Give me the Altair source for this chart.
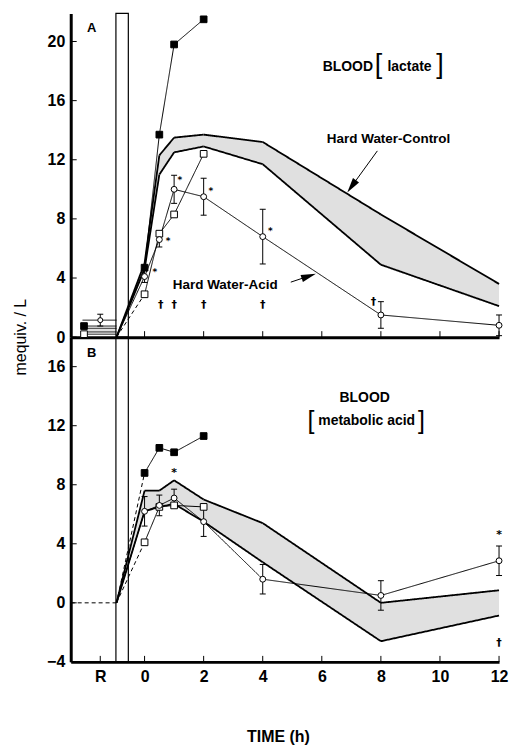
import altair as alt
import pandas as pd

# ---- time axis (h) ---------------------------------------------------------
HOURS = [0, 0.5, 1, 2, 4, 8, 12]
EARLY_HOURS = [0, 0.5, 1, 2]
T_ENTRY = -0.95              # traces leave the exposure period here
EXPOSURE = [-0.97, -0.55]    # exposure bar edges
REST_SPAN = [-2.1, -0.95]
REST_MARK = -2.05
R_POS = -1.5
X_DOMAIN = [-2.5, 12]
X_TICKS = [0, 2, 4, 6, 8, 10, 12]
X_LABELS = [-1.5, 0, 2, 4, 6, 8, 10, 12]

# ---- panel A: blood lactate (mequiv/L) -------------------------------------
A_DOMAIN = [0, 21.9]
A_TICKS = [0, 4, 8, 12, 16, 20]
LAC_CTRL_HI = [5.0, 12.3, 13.5, 13.7, 13.2, 8.3, 3.6]
LAC_CTRL_LO = [4.6, 11.0, 12.5, 12.9, 11.7, 4.9, 2.1]
LAC_ACID = [4.1, 6.6, 10.0, 9.5, 6.8, 1.5, 0.8]
LAC_ACID_SE = [0.4, 0.5, 0.95, 1.25, 1.85, 0.9, 0.7]
LAC_FILLED = [4.7, 13.7, 19.8, 21.5]
LAC_OPEN = [2.9, 7.0, 8.3, 12.4]
LAC_REST_CTRL = [0.35, 0.6]
LAC_REST_ACID = 1.15
LAC_REST_ACID_SE = 0.4
LAC_REST_FILLED = 0.75
LAC_REST_OPEN = 0.2

# ---- panel B: blood metabolic acid (mequiv/L) ------------------------------
B_DOMAIN = [-4, 18]
B_TICKS = [-4, 0, 4, 8, 12, 16]
MET_CTRL_HI = [7.6, 7.6, 8.3, 7.0, 5.4, 0.0, 0.85]
MET_CTRL_LO = [6.2, 6.5, 6.7, 5.5, 2.75, -2.6, -0.86]
MET_ACID = [6.2, 6.6, 7.1, 5.5, 1.6, 0.5, 2.85]
MET_ACID_SE = [1.0, 0.7, 0.6, 1.0, 1.0, 1.0, 1.0]
MET_FILLED = [8.8, 10.5, 10.2, 11.3]
MET_OPEN = [4.1, 6.5, 6.6, 6.5]
MET_REST = 0.0

# ---- significance marks ----------------------------------------------------
LAC_STARS = [(0.35, 4.4), (0.8, 6.5), (1.19, 10.6), (2.24, 9.9), (4.26, 7.2)]
LAC_DAGGERS = [(0.55, 2.2), (1.0, 2.2), (2.0, 2.2), (4.0, 2.2), (7.75, 2.4)]
MET_STARS = [(1.0, 8.8), (12.0, 4.6)]
MET_DAGGERS = [(12.0, -2.7)]

# ---- labels and arrows -----------------------------------------------------
LAC_TITLE = [(6.88, 18.3, "BLOOD"), (8.97, 18.3, "lactate")]
LAC_BRACKETS = [(7.92, 18.4, "["), (10.0, 18.4, "]")]
MET_TITLE = [(7.45, 13.9, "BLOOD"), (7.52, 12.3, "metabolic acid")]
MET_BRACKETS = [(5.63, 12.35, "["), (9.37, 12.35, "]")]
LAC_GROUPS = [(8.26, 13.4, "Hard Water-Control"), (2.73, 3.5, "Hard Water-Acid")]
ARROW_LINES = [  # (x_from, y_from, x_to, y_to)
    (7.88, 12.6, 7.01, 10.2),
    (4.95, 3.72, 5.56, 4.13),
]
ARROW_HEADS = [(7.01, 10.2, 215.7), (5.56, 4.13, 71.5)]
PANEL_LETTERS_A = [(-1.79, 20.9, "A")]
PANEL_LETTERS_B = [(-1.79, 16.9, "B")]

FONT = "Liberation Sans"
W = 430
H_A = 325
H_B = 326
BAND_FILL = "#e0e0e0"

x_scale = alt.Scale(domain=X_DOMAIN, nice=False, zero=False)


def xenc(field="x", labels=False):
    if labels:
        axis = alt.Axis(values=X_LABELS, labelExpr="datum.value < -1 ? 'R' : format(datum.value, 'd')",
                        title="TIME (h)", titleFont=FONT, titleFontSize=16, titleFontWeight="bold",
                        titleX=208, titleY=80, titleBaseline="alphabetic", labelPadding=7)
    else:
        axis = alt.Axis(values=X_TICKS, labels=False, title=None)
    return alt.X(field, type="quantitative", scale=x_scale, axis=axis)


def make_yenc(domain, ticks):
    scale = alt.Scale(domain=domain, nice=False, zero=False)
    axis = alt.Axis(values=ticks, title=None, format="d")

    def yenc(field):
        return alt.Y(field, type="quantitative", scale=scale, axis=axis)
    return yenc


def path_rows(name, xs, ys, start=(T_ENTRY, 0.0), dashed_first=False):
    pts = ([start] if start else []) + list(zip(xs, ys))
    rows = []
    for i in range(len(pts) - 1):
        style = "dashed" if (dashed_first and i == 0) else "solid"
        for k, (px, py) in enumerate(pts[i:i + 2]):
            rows.append({"seg": f"{name}{i}", "x": px, "y": py, "style": style, "k": k})
    return rows


def lines(rows, xe, yenc, width=1.0):
    return alt.Chart(pd.DataFrame(rows)).mark_line(color="black", strokeWidth=width).encode(
        x=xe, y=yenc("y"), detail="seg:N", order="k:Q",
        strokeDash=alt.StrokeDash("style:N", legend=None,
                                  scale=alt.Scale(domain=["solid", "dashed"], range=[[1, 0], [4, 3]])))


def band(xs, lo, hi, xe, yenc):
    df = pd.DataFrame({"x": xs, "lo": lo, "hi": hi})
    return alt.Chart(df).mark_area(color=BAND_FILL, opacity=1).encode(x=xe, y=yenc("lo"), y2="hi")


def markers(xs, ys, xe, yenc, shape, fill, size):
    df = pd.DataFrame({"x": xs, "y": ys})
    return alt.Chart(df).mark_point(shape=shape, filled=True, fill=fill, stroke="black",
                                    strokeWidth=1, size=size, opacity=1).encode(x=xe, y=yenc("y"))


def errbars(xs, ys, se, xe, yenc):
    df = pd.DataFrame({"x": xs, "lo": [y - s for y, s in zip(ys, se)],
                       "hi": [y + s for y, s in zip(ys, se)]})
    base = alt.Chart(df)
    stem = base.mark_rule(color="black", strokeWidth=1).encode(x=xe, y=yenc("lo"), y2="hi")
    cap_lo = base.mark_rule(color="black", strokeWidth=1, xOffset=-3, x2Offset=3).encode(
        x=xe, x2="x", y=yenc("lo"))
    cap_hi = base.mark_rule(color="black", strokeWidth=1, xOffset=-3, x2Offset=3).encode(
        x=xe, x2="x", y=yenc("hi"))
    return [stem, cap_lo, cap_hi]


def texts(items, xe, yenc, **style):
    df = pd.DataFrame(items, columns=["x", "y", "text"])
    return alt.Chart(df).mark_text(font=FONT, color="black", **style).encode(
        x=xe, y=yenc("y"), text="text:N")


def symbols_text(points, sym, xe, yenc, size):
    df = pd.DataFrame([(x, y, sym) for x, y in points], columns=["x", "y", "text"])
    return alt.Chart(df).mark_text(font="DejaVu Sans", color="black", fontSize=size,
                                   fontWeight="bold").encode(x=xe, y=yenc("y"), text="text:N")


def inner_yticks(values, yenc):
    df = pd.DataFrame({"v": values})
    return alt.Chart(df).mark_rule(color="black", strokeWidth=1).encode(
        y=yenc("v"), x=alt.value(0), x2=alt.value(6))


def inner_xticks(values, height, labels):
    df = pd.DataFrame({"v": values})
    return alt.Chart(df).mark_rule(color="black", strokeWidth=1).encode(
        x=xenc("v", labels=labels), y=alt.value(height), y2=alt.value(height - 6))


# =========================== panel A ========================================
ya = make_yenc(A_DOMAIN, A_TICKS)
xa = xenc()

a_layers = [
    band([T_ENTRY] + HOURS, [0.0] + LAC_CTRL_LO, [0.0] + LAC_CTRL_HI, xa, ya),
    band(REST_SPAN, [LAC_REST_CTRL[0]] * 2, [LAC_REST_CTRL[1]] * 2, xa, ya),
    lines(path_rows("hi", HOURS, LAC_CTRL_HI) + path_rows("lo", HOURS, LAC_CTRL_LO), xa, ya, 1.8),
    lines(path_rows("rc", REST_SPAN, [LAC_REST_CTRL[0]] * 2, start=None)
          + path_rows("rc2", REST_SPAN, [LAC_REST_CTRL[1]] * 2, start=None)
          + path_rows("rf", REST_SPAN, [LAC_REST_FILLED] * 2, start=None)
          + path_rows("ro", REST_SPAN, [LAC_REST_OPEN] * 2, start=None)
          + path_rows("ra", REST_SPAN, [LAC_REST_ACID] * 2, start=None), xa, ya, 1.0),
    lines(path_rows("f", EARLY_HOURS, LAC_FILLED)
          + path_rows("o", EARLY_HOURS, LAC_OPEN, dashed_first=True)
          + path_rows("a", HOURS, LAC_ACID), xa, ya, 1.0),
    *errbars(HOURS, LAC_ACID, LAC_ACID_SE, xa, ya),
    *errbars([R_POS], [LAC_REST_ACID], [LAC_REST_ACID_SE], xa, ya),
    markers(EARLY_HOURS, LAC_FILLED, xa, ya, "square", "black", 45),
    markers([REST_MARK], [LAC_REST_FILLED], xa, ya, "square", "black", 45),
    markers(EARLY_HOURS, LAC_OPEN, xa, ya, "square", "white", 45),
    markers([REST_MARK], [LAC_REST_OPEN], xa, ya, "square", "white", 45),
    markers(HOURS, LAC_ACID, xa, ya, "circle", "white", 35),
    markers([R_POS], [LAC_REST_ACID], xa, ya, "circle", "white", 25),
    alt.Chart(pd.DataFrame({"x": [EXPOSURE[0]], "x2": [EXPOSURE[1]],
                            "y": [A_DOMAIN[0]], "y2": [A_DOMAIN[1]]}))
    .mark_rect(fillOpacity=0, stroke="black", strokeWidth=1.2)
    .encode(x=xa, x2="x2", y=ya("y"), y2="y2"),
    inner_yticks(A_TICKS, ya),
    inner_xticks(X_TICKS, H_A, False),
    symbols_text(LAC_STARS, "*", xa, ya, 9),
    symbols_text(LAC_DAGGERS, "†", xa, ya, 11),
    texts(LAC_TITLE, xa, ya, fontSize=14, fontWeight="bold"),
    texts(LAC_BRACKETS, xa, ya, fontSize=27, fontWeight="normal"),
    texts(LAC_GROUPS, xa, ya, fontSize=13.5, fontWeight="bold"),
    texts(PANEL_LETTERS_A, xa, ya, fontSize=13, fontWeight="bold"),
    alt.Chart(pd.DataFrame(ARROW_LINES, columns=["x", "y", "x2", "y2"]))
    .mark_rule(color="black", strokeWidth=1).encode(x=xa, y=ya("y"), x2="x2", y2="y2"),
    alt.Chart(pd.DataFrame(ARROW_HEADS, columns=["x", "y", "ang"]))
    .mark_point(shape="M0,-1L0.5,1L-0.5,1Z", filled=True, color="black", size=225, opacity=1)
    .encode(x=xa, y=ya("y"), angle=alt.Angle("ang:Q", scale=None)),
    alt.Chart(pd.DataFrame({"y": [0]})).mark_text(
        text="mequiv. / L", font=FONT, fontSize=16, angle=270, align="center", baseline="middle",
        color="black").encode(y=ya("y"), x=alt.value(-50)),
]
panel_a = alt.layer(*a_layers).properties(width=W, height=H_A)

# =========================== panel B ========================================
yb = make_yenc(B_DOMAIN, B_TICKS)
xb = xenc(labels=True)

b_layers = [
    band([T_ENTRY] + HOURS, [0.0] + MET_CTRL_LO, [0.0] + MET_CTRL_HI, xb, yb),
    lines(path_rows("hi", HOURS, MET_CTRL_HI) + path_rows("lo", HOURS, MET_CTRL_LO), xb, yb, 1.8),
    lines(path_rows("rest", [T_ENTRY], [MET_REST], start=(X_DOMAIN[0], MET_REST), dashed_first=True),
          xb, yb, 1.0),
    lines(path_rows("f", EARLY_HOURS, MET_FILLED, dashed_first=True)
          + path_rows("o", EARLY_HOURS, MET_OPEN, dashed_first=True)
          + path_rows("a", HOURS, MET_ACID), xb, yb, 1.0),
    *errbars(HOURS, MET_ACID, MET_ACID_SE, xb, yb),
    markers(EARLY_HOURS, MET_FILLED, xb, yb, "square", "black", 45),
    markers(EARLY_HOURS, MET_OPEN, xb, yb, "square", "white", 45),
    markers(HOURS, MET_ACID, xb, yb, "circle", "white", 35),
    alt.Chart(pd.DataFrame({"x": EXPOSURE})).mark_rule(color="black", strokeWidth=1.2)
    .encode(x=xb, y=alt.value(0), y2=alt.value(H_B)),
    inner_yticks(B_TICKS, yb),
    inner_xticks([R_POS] + X_TICKS, H_B, True),
    symbols_text(MET_STARS, "*", xb, yb, 11),
    symbols_text(MET_DAGGERS, "†", xb, yb, 11),
    texts(MET_TITLE, xb, yb, fontSize=14, fontWeight="bold"),
    texts(MET_BRACKETS, xb, yb, fontSize=25, fontWeight="normal"),
    texts(PANEL_LETTERS_B, xb, yb, fontSize=13, fontWeight="bold"),
]
panel_b = alt.layer(*b_layers).properties(width=W, height=H_B)

chart = (
    alt.vconcat(panel_a, panel_b, spacing=0, bounds="flush")
    .properties(padding={"left": 12, "top": 10, "right": 2, "bottom": 2}, background="white")
    .configure_view(stroke="transparent")
    .configure_axis(domainColor="black", domainWidth=3, labelColor="black", labelFont=FONT,
                    labelFontWeight="bold", labelFontSize=16, grid=False, ticks=False, tickSize=0,
                    labelFlush=False, labelPadding=6, labelOverlap=False)
)

chart.save("out.html", embed_options={"renderer": "svg", "actions": False})
